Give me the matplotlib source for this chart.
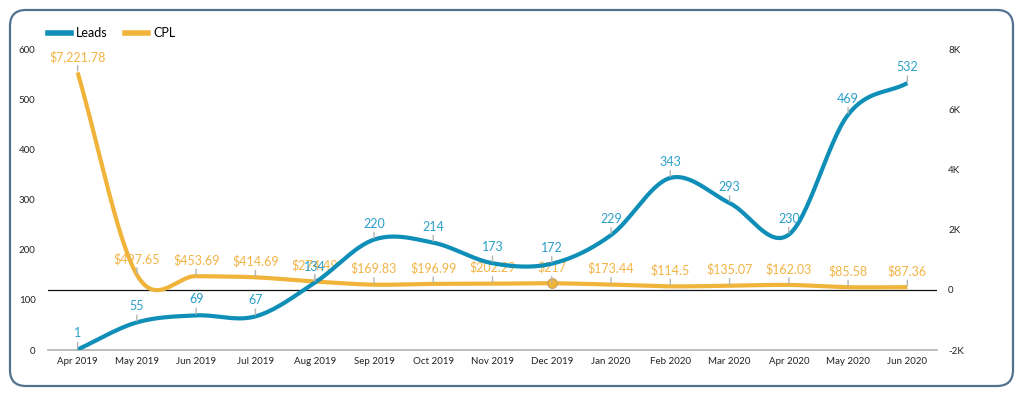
"""Leads vs CPL monthly chart, smoothed lines on twin axes."""

import matplotlib
matplotlib.use("Agg")
import matplotlib.pyplot as plt
import matplotlib.patches as mpatches
from matplotlib.lines import Line2D
from matplotlib.ticker import FuncFormatter
import numpy as np

months = [
    "Apr 2019", "May 2019", "Jun 2019", "Jul 2019", "Aug 2019", "Sep 2019",
    "Oct 2019", "Nov 2019", "Dec 2019", "Jan 2020", "Feb 2020", "Mar 2020",
    "Apr 2020", "May 2020", "Jun 2020",
]
leads = [1, 55, 69, 67, 134, 220, 214, 173, 172, 229, 343, 293, 230, 469, 532]
cpl = [7221.78, 497.65, 453.69, 414.69, 274.49, 169.83, 196.99, 202.29, 217,
       173.44, 114.5, 135.07, 162.03, 85.58, 87.36]
cpl_labels = ["$7,221.78", "$497.65", "$453.69", "$414.69", "$274.49", "$169.83",
              "$196.99", "$202.29", "$217", "$173.44", "$114.5", "$135.07",
              "$162.03", "$85.58", "$87.36"]
hover_idx = 8

BLUE = "#0f8fb7"
BLUE_TXT = "#2b9fca"
ORANGE = "#f0b43a"
ORANGE_TXT = "#f2b445"
BORDER = "#52728f"

plt.rcParams["font.family"] = ["Lato", "DejaVu Sans"]


def smooth(vals, n=30):
    """Catmull-Rom curve through the points (drawing only)."""
    v = np.asarray(vals, dtype=float)
    p = np.concatenate([[2 * v[0] - v[1]], v, [2 * v[-1] - v[-2]]])
    xs, ys = [], []
    for i in range(len(v) - 1):
        p0, p1, p2, p3 = p[i], p[i + 1], p[i + 2], p[i + 3]
        m1 = (p2 - p0) / 2
        m2 = (p3 - p1) / 2
        t = np.linspace(0, 1, n, endpoint=(i == len(v) - 2))
        h00 = 2 * t**3 - 3 * t**2 + 1
        h10 = t**3 - 2 * t**2 + t
        h01 = -2 * t**3 + 3 * t**2
        h11 = t**3 - t**2
        xs.append(i + t)
        ys.append(h00 * p1 + h10 * m1 + h01 * p2 + h11 * m2)
    return np.concatenate(xs), np.concatenate(ys)


fig = plt.figure(figsize=(10.24, 3.96), dpi=100)

# rounded card border, drawn in pixel coords
bg = fig.add_axes([0, 0, 1, 1])
bg.set_xlim(0, 1024)
bg.set_ylim(396, 0)
bg.axis("off")
bg.add_patch(mpatches.FancyBboxPatch(
    (10, 10), 1003, 376, boxstyle="round,pad=0,rounding_size=16",
    facecolor="white", edgecolor=BORDER, linewidth=1.6,
))

ax = fig.add_axes([48 / 1024, 1 - 350 / 396, 889 / 1024, 301 / 396])
ax2 = ax.twinx()
ax.set_zorder(ax2.get_zorder() + 1)
ax.patch.set_visible(False)

x = np.arange(len(months))

ax.set_xlim(-0.5, len(months) - 0.5)
ax.set_ylim(0, 600)
ax2.set_ylim(-2000, 8000)

sx, sy = smooth(cpl)
ax2.plot(sx, sy, color=ORANGE, lw=3, solid_capstyle="butt", zorder=3)
ax2.axhline(0, color="#111111", lw=0.9, zorder=2)
ax2.plot(x[hover_idx], cpl[hover_idx], "o", ms=7, color=ORANGE,
         markeredgecolor="#c9a35a", markeredgewidth=0.8, zorder=4)

lx, ly = smooth(leads)
ax.plot(lx, ly, color=BLUE, lw=3, solid_capstyle="butt", zorder=3)


def label(a, xi, yi, txt, color):
    a.annotate(
        txt, xy=(xi, yi), xytext=(0, 16), textcoords="offset pixels",
        ha="center", va="center", fontsize=9, color=color, zorder=5,
        arrowprops=dict(arrowstyle="-", color="#b5b5b5", lw=1,
                        shrinkA=0, shrinkB=1),
    )


for i, v in enumerate(cpl):
    label(ax2, i, v, cpl_labels[i], ORANGE_TXT)
for i, v in enumerate(leads):
    label(ax, i, v, str(v), BLUE_TXT)

ax.set_xticks(x)
ax.set_xticklabels(months)
ax.set_yticks(range(0, 601, 100))
ax2.set_yticks(range(-2000, 8001, 2000))
ax2.yaxis.set_major_formatter(
    FuncFormatter(lambda v, _: "0" if v == 0 else f"{int(v / 1000)}K"))

for a in (ax, ax2):
    for s in a.spines.values():
        s.set_visible(False)
    a.tick_params(length=0, labelsize=7, colors="#222222")
ax.tick_params(axis="x", pad=5)
ax.tick_params(axis="y", pad=9)
ax2.tick_params(axis="y", pad=8)
ax.spines["bottom"].set_visible(True)
ax.spines["bottom"].set_color("#b0b0b0")
ax.spines["bottom"].set_linewidth(1.2)

handles = [
    Line2D([], [], color=BLUE, lw=4),
    Line2D([], [], color=ORANGE, lw=4),
]
fig.legend(
    handles, ["Leads", "CPL"], loc="center left",
    bbox_to_anchor=(48 / 1024, 1 - 33 / 396), ncol=2, frameon=False,
    fontsize=9, handlelength=1.8, handletextpad=0.45, columnspacing=1.4,
    borderpad=0, borderaxespad=0,
)

fig.savefig("out.png", dpi=100, facecolor="white")
